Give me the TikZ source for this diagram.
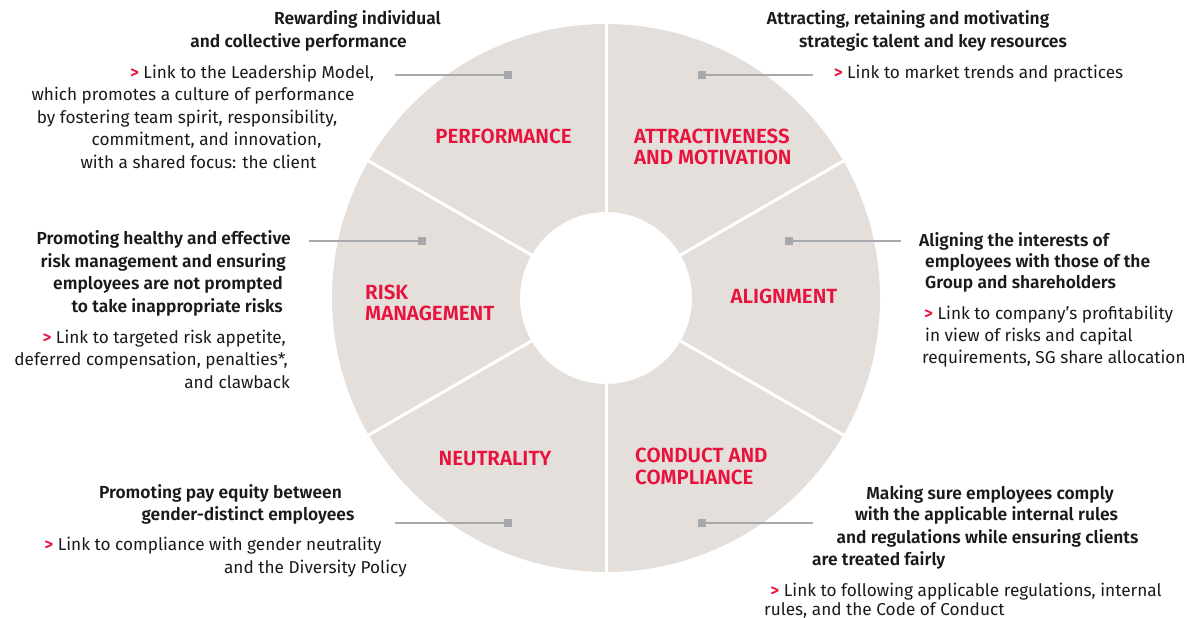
\documentclass[tikz,border=0pt]{standalone}
\usepackage{fontspec}
\setmainfont{Fira Sans}[BoldFont={Fira Sans SemiBold}]
\definecolor{segfill}{HTML}{E5DFDB}
\definecolor{sgred}{HTML}{E8123C}
\definecolor{conngray}{HTML}{A6A8AB}
\definecolor{txt}{HTML}{1A1A1A}
\newcommand{\gt}{\textcolor{sgred}{\textbf{>}}\ }
\begin{document}
\begin{tikzpicture}[x=1pt,y=-1pt,
  body/.style={inner sep=0pt, text=txt, font=\fontsize{17.2}{20}\selectfont},
  head/.style={inner sep=0pt, text=txt, font=\fontsize{17.4}{20}\selectfont\bfseries},
  seglabel/.style={inner sep=0pt, text=sgred, font=\fontsize{20.5}{22}\selectfont\bfseries},
  sq/.style={fill=conngray, minimum size=8pt, inner sep=0pt, draw=none},
  conn/.style={draw=conngray, line width=1.6pt},
  sepline/.style={draw=white, line width=3pt}]
\useasboundingbox (0,0) rectangle (1187,618);
% donut
\coordinate (c) at (606,298);
\fill[segfill, even odd rule] (c) circle[radius=274pt] (c) circle[radius=86pt];
\foreach \a in {30,90,150,210,270,330}
  \draw[sepline] ([shift={(\a:80)}]c) -- ([shift={(\a:280)}]c);

% segment labels
\node[seglabel, anchor=base] (lperf) at (503.5,143) {PERFORMANCE};
\node[seglabel, anchor=base west] (lattr1) at (634,143) {ATTRACTIVENESS};
\node[seglabel, anchor=base west] (lattr2) at (634,164) {AND MOTIVATION};
\node[seglabel, anchor=base west] (lrisk1) at (365,299) {RISK};
\node[seglabel, anchor=base west] (lrisk2) at (365,320) {MANAGEMENT};
\node[seglabel, anchor=base] (lalign) at (784,303) {ALIGNMENT};
\node[seglabel, anchor=base] (lneut) at (495,465) {NEUTRALITY};
\node[seglabel, anchor=base west] (lcond1) at (635,462) {CONDUCT AND};
\node[seglabel, anchor=base west] (lcond2) at (635,484) {COMPLIANCE};

% connectors
\node[sq] (qperf) at (508,75) {};
\coordinate (eperf) at (395,75);
\draw[conn] (eperf) -- (qperf);
\node[sq] (qattr) at (702,75) {};
\coordinate (eattr) at (813,75);
\draw[conn] (qattr) -- (eattr);
\node[sq] (qrisk) at (422,241) {};
\coordinate (erisk) at (309,241);
\draw[conn] (erisk) -- (qrisk);
\node[sq] (qalign) at (789,241) {};
\coordinate (ealign) at (901,241);
\draw[conn] (qalign) -- (ealign);
\node[sq] (qneut) at (508,523) {};
\coordinate (eneut) at (395,523);
\draw[conn] (eneut) -- (qneut);
\node[sq] (qcond) at (702,523) {};
\coordinate (econd) at (813,523);
\draw[conn] (qcond) -- (econd);

% performance text
\node[head, anchor=base] (p1) at (357.5,25) {Rewarding individual};
\node[head, anchor=base] (p2) at (298.5,48) {and collective performance};
\node[body, anchor=base] (p3) at (252,78) {\gt Link to the Leadership Model,};
\node[body, anchor=base] (p4) at (193,101) {which promotes a culture of performance};
\node[body, anchor=base] (p5) at (187,124) {by fostering team spirit, responsibility,};
\node[body, anchor=base] (p6) at (206.5,146) {commitment, and innovation,};
\node[body, anchor=base] (p7) at (198.5,168) {with a shared focus: the client};

% attractiveness text
\node[head, anchor=base] (a1) at (908,25) {Attracting, retaining and motivating};
\node[head, anchor=base] (a2) at (933,48) {strategic talent and key resources};
\node[body, anchor=base] (a3) at (978.5,78) {\gt Link to market trends and practices};

% risk text
\node[head, anchor=base east] (r1) at (291,244) {Promoting healthy and effective};
\node[head, anchor=base east] (r2) at (286,267) {risk management and ensuring};
\node[head, anchor=base east] (r3) at (283,289) {employees are not prompted};
\node[head, anchor=base east] (r4) at (283,312) {to take inappropriate risks};
\node[body, anchor=base east] (r5) at (286,343) {\gt Link to targeted risk appetite,};
\node[body, anchor=base east] (r6) at (288,365) {deferred compensation, penalties*,};
\node[body, anchor=base east] (r7) at (290,388) {and clawback};

% alignment text
\node[head, anchor=base west] (g1) at (919,246) {Aligning the interests of};
\node[head, anchor=base west] (g2) at (925,267) {employees with those of the};
\node[head, anchor=base west] (g3) at (925,288) {Group and shareholders};
\node[body, anchor=base west] (g4) at (924,319) {\gt Link to company’s profitability};
\node[body, anchor=base west] (g5) at (925,341) {in view of risks and capital};
\node[body, anchor=base west] (g6) at (922,363) {requirements, SG share allocation};

% neutrality text
\node[head, anchor=base] (n1) at (220.5,498) {Promoting pay equity between};
\node[head, anchor=base] (n2) at (248,520) {gender-distinct employees};
\node[body, anchor=base] (n3) at (213,550) {\gt Link to compliance with gender neutrality};
\node[body, anchor=base east] (n4) at (407,573) {and the Diversity Policy};

% conduct text
\node[head, anchor=base] (c1) at (990,499) {Making sure employees comply};
\node[head, anchor=base] (c2) at (986.5,520) {with the applicable internal rules};
\node[head, anchor=base] (c3) at (987.5,543) {and regulations while ensuring clients};
\node[head, anchor=base west] (c4) at (812,565) {are treated fairly};
\node[body, anchor=base] (c5) at (966,596) {\gt Link to following applicable regulations, internal};
\node[body, anchor=base west] (c6) at (764,615) {rules, and the Code of Conduct};
\end{tikzpicture}
\end{document}
